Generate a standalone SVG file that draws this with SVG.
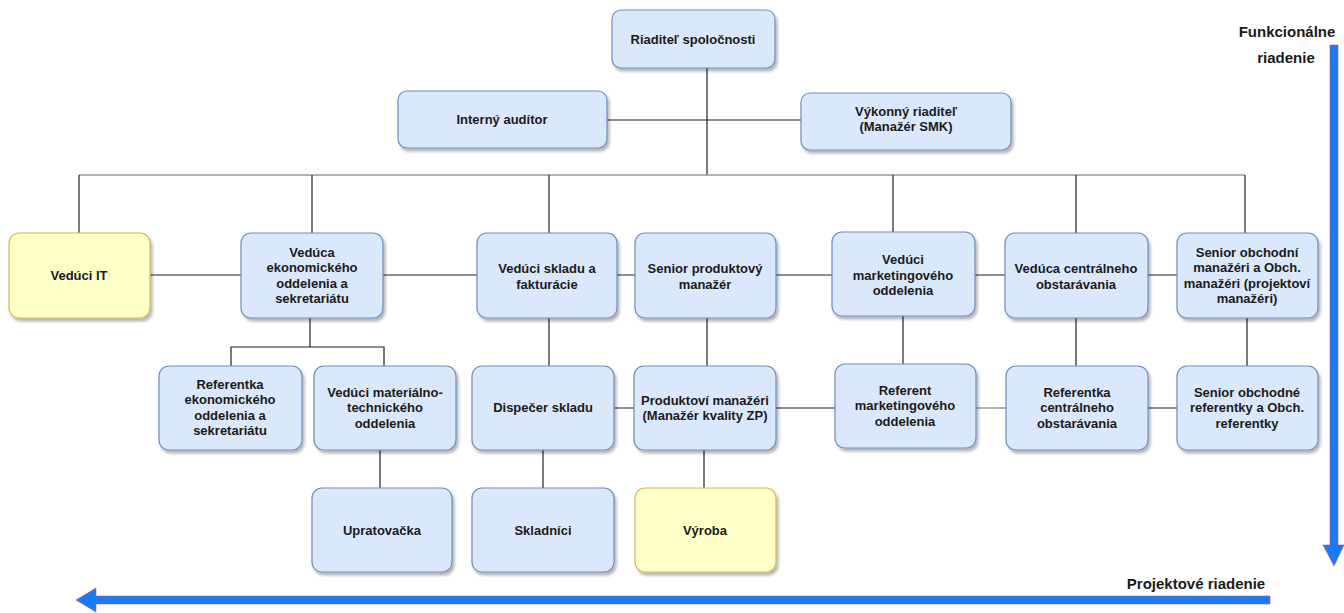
<svg xmlns="http://www.w3.org/2000/svg" width="1344" height="613" viewBox="0 0 1344 613">
<defs>
<filter id="sh" x="-10%" y="-10%" width="130%" height="130%">
<feGaussianBlur in="SourceAlpha" stdDeviation="1.5"/>
<feOffset dx="2" dy="3" result="o"/>
<feComponentTransfer><feFuncA type="linear" slope="0.3"/></feComponentTransfer>
<feMerge><feMergeNode/><feMergeNode in="SourceGraphic"/></feMerge>
</filter>
</defs>
<style>
.n{fill:#dae8fc;stroke:#6c8ebf;stroke-width:1.2;filter:url(#sh)}
.y{fill:#ffffc8;stroke:#d6b656;stroke-width:1.2;filter:url(#sh)}
text{font-family:"Liberation Sans",Arial,sans-serif;font-size:13px;font-weight:bold;fill:#1a1a1a;text-anchor:middle}
.c{stroke:#222;stroke-width:1.2;fill:none}
.g{stroke:#999;stroke-width:1.5;fill:none}
.arr{fill:#1a7cf5;stroke:#c05060;stroke-width:0.6}
.lb{font-size:15px}
</style>
<rect width="1344" height="613" fill="#fff"/>
<g id="connectors">
<path class="c" d="M707 68V175M607 120H801"/>
<path class="g" d="M79 175H1245"/>
<path class="c" d="M79 175V233M312 175V233M549 175V233M893 175V232M1076 175V233M1245 175V233"/>
<path class="c" d="M150 275H241M383 275H477M617 275H635M776 275H832M975 275H1005M1148 275H1177"/>
<path class="c" d="M310 318V347H231V366M310 347H384V366"/>
<path class="c" d="M549 318V366M707 318V366M903 316V364M1076 318V366M1247 318V366"/>
<path class="c" d="M614 408H634M776 408H835M1148 408H1177"/>
<path class="g" d="M976 408H1006"/>
<path class="c" d="M380 450V488M543 450V488M704 450V488"/>
</g>
<g id="n-riaditel"><rect class="n" x="612" y="10" width="163" height="58" rx="9"/><text x="693" y="44">Riaditeľ spoločnosti</text></g>
<g id="n-auditor"><rect class="n" x="398" y="91" width="209" height="57" rx="9"/><text x="502" y="124">Interný audítor</text></g>
<g id="n-vykonny"><rect class="n" x="801" y="93" width="210" height="57" rx="9"/><text x="906" y="116">Výkonný riaditeľ</text><text x="906" y="131">(Manažér SMK)</text></g>
<g id="n-it"><rect class="y" x="9" y="233" width="141" height="85" rx="10"/><text x="79" y="280">Vedúci IT</text></g>
<g id="n-ekon"><rect class="n" x="241" y="233" width="142" height="85" rx="10"/><text x="312" y="257">Vedúca</text><text x="312" y="272">ekonomického</text><text x="312" y="288">oddelenia a</text><text x="312" y="303">sekretariátu</text></g>
<g id="n-sklad"><rect class="n" x="477" y="233" width="140" height="85" rx="10"/><text x="547" y="273">Vedúci skladu a</text><text x="547" y="289">fakturácie</text></g>
<g id="n-senprod"><rect class="n" x="635" y="233" width="141" height="85" rx="10"/><text x="705" y="273">Senior produktový</text><text x="705" y="289">manažér</text></g>
<g id="n-mark"><rect class="n" x="832" y="232" width="143" height="84" rx="10"/><text x="903" y="264">Vedúci</text><text x="903" y="280">marketingového</text><text x="903" y="295">oddelenia</text></g>
<g id="n-centr"><rect class="n" x="1005" y="233" width="143" height="85" rx="10"/><text x="1076" y="273">Vedúca centrálneho</text><text x="1076" y="289">obstarávania</text></g>
<g id="n-senobch"><rect class="n" x="1177" y="233" width="141" height="85" rx="10"/><text x="1247" y="257">Senior obchodní</text><text x="1247" y="272">manažéri a Obch.</text><text x="1247" y="288">manažéri (projektoví</text><text x="1247" y="303">manažéri)</text></g>
<g id="n-refekon"><rect class="n" x="159" y="366" width="143" height="84" rx="10"/><text x="230" y="389">Referentka</text><text x="230" y="404">ekonomického</text><text x="230" y="420">oddelenia a</text><text x="230" y="435">sekretariátu</text></g>
<g id="n-mattech"><rect class="n" x="314" y="366" width="142" height="84" rx="10"/><text x="385" y="397">Vedúci materiálno-</text><text x="385" y="412">technického</text><text x="385" y="428">oddelenia</text></g>
<g id="n-disp"><rect class="n" x="472" y="366" width="142" height="84" rx="10"/><text x="543" y="412">Dispečer skladu</text></g>
<g id="n-prod"><rect class="n" x="634" y="366" width="142" height="84" rx="10"/><text x="705" y="405">Produktoví manažéri</text><text x="705" y="420">(Manažér kvality ZP)</text></g>
<g id="n-refmark"><rect class="n" x="835" y="364" width="141" height="84" rx="10"/><text x="905" y="395">Referent</text><text x="905" y="410">marketingového</text><text x="905" y="426">oddelenia</text></g>
<g id="n-refcentr"><rect class="n" x="1006" y="366" width="142" height="84" rx="10"/><text x="1077" y="397">Referentka</text><text x="1077" y="412">centrálneho</text><text x="1077" y="428">obstarávania</text></g>
<g id="n-senref"><rect class="n" x="1177" y="366" width="141" height="84" rx="10"/><text x="1247" y="397">Senior obchodné</text><text x="1247" y="412">referentky a Obch.</text><text x="1247" y="428">referentky</text></g>
<g id="n-uprat"><rect class="n" x="312" y="488" width="140" height="84" rx="10"/><text x="382" y="535">Upratovačka</text></g>
<g id="n-skladnici"><rect class="n" x="472" y="488" width="142" height="84" rx="10"/><text x="543" y="535">Skladníci</text></g>
<g id="n-vyroba"><rect class="y" x="635" y="488" width="141" height="84" rx="10"/><text x="705" y="535">Výroba</text></g>
<g id="arrow-funkc">
<path class="arr" d="M1330 45H1338V545H1344L1334 566L1323 545H1330Z"/>
<text class="lb" x="1287" y="37">Funkcionálne</text><text class="lb" x="1286" y="63">riadenie</text>
</g>
<g id="arrow-proj">
<path class="arr" d="M1270 596V604H96V612L76 600L96 588V596Z"/>
<text class="lb" x="1196" y="589">Projektové riadenie</text>
</g>
</svg>
